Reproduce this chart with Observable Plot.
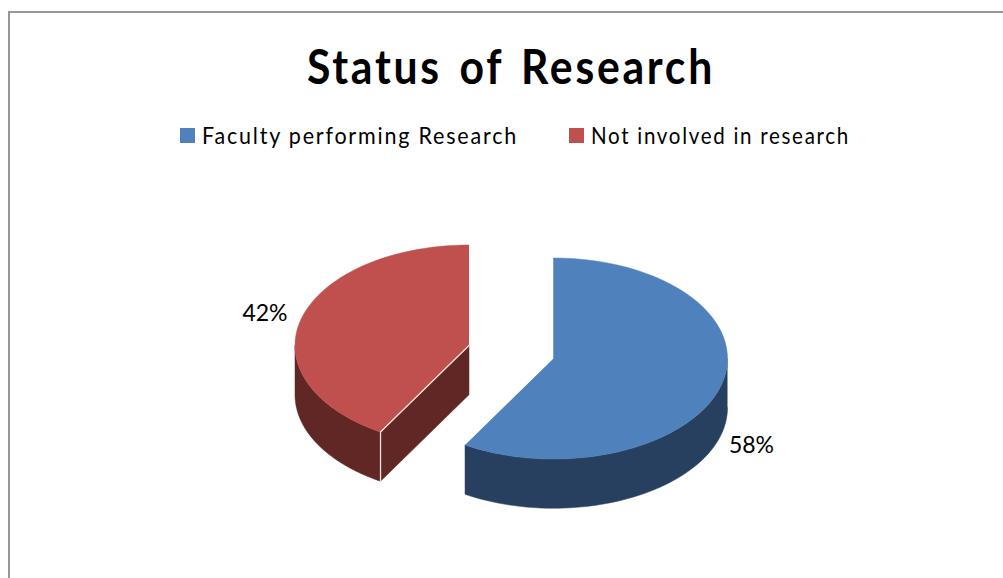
<!DOCTYPE html>
<html><head><meta charset="utf-8">
<script src="https://cdn.jsdelivr.net/npm/d3@7"></script>
<script src="https://cdn.jsdelivr.net/npm/@observablehq/plot@0.6"></script>
<style>
html,body{margin:0;padding:0;background:#fff;overflow:hidden;width:1003px;height:578px}
body{position:relative;font-family:Lato,"Open Sans",sans-serif;color:#000}
#frame{position:absolute;left:8px;top:11px;right:-5px;bottom:-5px;border:2px solid #969696;box-sizing:border-box}
#head{position:relative;height:170px}
.fit{position:absolute;white-space:nowrap;transform-origin:0 0}
#title{font-size:47px;line-height:58px;font-weight:700;letter-spacing:3px;word-spacing:5px;top:37px}
.lg{font-size:24px;line-height:32px;letter-spacing:2px;top:119px}
.sw{position:absolute;top:128px;width:15px;height:15px}
#chart{position:relative;display:block}
#chart svg{display:block;overflow:visible}
</style></head>
<body>
<div id="frame"></div>
<div id="head">
  <div id="title" class="fit"></div>
  <div id="legend"></div>
</div>
<div id="chart"></div>
<script>
const chartTitle = "Status of Research";
const categories = ["Faculty performing Research", "Not involved in research"];
const shares = [58.49, 41.51];
const shareLabels = ["58%", "42%"];
const topColors = ["#4f81bd", "#c0504d"];
const sideColors = ["#28405f", "#602725"];

// layout (pie-radius units: 1 x-unit = horizontal radius, 1 y-unit = vertical radius)
const W = 1003, H = 408, RX = 174, RY = 100.5, CX = 553, CY = 188;
const depth = 0.49;
const explode = [[0, 0], [-84.5 / RX, -13 / RY]];
const labelAt = [[198 / RX, 87 / RY], [-204 / RX, -32 / RY]];

function fit(el, left, right) {
  el.style.left = left + "px";
  el.style.transform = "scaleX(" + (right - left) / el.getBoundingClientRect().width + ")";
}
const titleEl = document.getElementById("title");
titleEl.textContent = chartTitle;
fit(titleEl, 307, 715);
const lg = document.getElementById("legend");
[[180, 202, 518], [569, 591, 850]].forEach(([sx, tx, te], i) => {
  const s = document.createElement("div"); s.className = "sw"; s.style.left = sx + "px"; s.style.background = topColors[i]; lg.appendChild(s);
  const t = document.createElement("div"); t.className = "fit lg"; t.textContent = categories[i]; lg.appendChild(t);
  fit(t, tx, te);
});

const total = d3.sum(shares);
const ends = d3.cumsum(shares).map(v => v / total * 2 * Math.PI);
const starts = [0, ...ends.slice(0, -1)];
const pt = (a, i, dz = 0) => ({x: explode[i][0] + Math.sin(a), y: explode[i][1] - Math.cos(a) + dz});
const arc = (a0, a1, i, dz = 0) => d3.range(0, 61).map(k => pt(a0 + (a1 - a0) * k / 60, i, dz));
const centre = (i, dz = 0) => ({x: explode[i][0], y: explode[i][1] + dz});

const marks = [];
shares.forEach((_, i) => {
  const a0 = starts[i], a1 = ends[i];
  const w0 = Math.max(a0, Math.PI / 2), w1 = Math.min(a1, 3 * Math.PI / 2);
  if (w1 > w0) marks.push(Plot.line([...arc(w0, w1, i), ...arc(w1, w0, i, depth)], {x: "x", y: "y", fill: sideColors[i], stroke: sideColors[i], strokeWidth: 0.5}));
  if (a0 > Math.PI && a0 < 2 * Math.PI) {
    marks.push(Plot.line([pt(a0, i), centre(i), centre(i, depth), pt(a0, i, depth)], {x: "x", y: "y", fill: sideColors[i], stroke: sideColors[i], strokeWidth: 0.5}));
  }
});
shares.forEach((_, i) => {
  marks.push(Plot.line([centre(i), ...arc(starts[i], ends[i], i)], {x: "x", y: "y", fill: topColors[i], stroke: topColors[i], strokeWidth: 0.5}));
});
marks.push(Plot.line([centre(1), pt(starts[1], 1), pt(starts[1], 1, depth)], {x: "x", y: "y", stroke: "#f2e4e3", strokeWidth: 1.3}));
marks.push(Plot.text(shareLabels, {
  x: (_, i) => explode[i][0] + labelAt[i][0],
  y: (_, i) => explode[i][1] + labelAt[i][1],
  text: d => d, fontSize: 23, fill: "#000", fontFamily: 'Lato,"Open Sans",sans-serif'
}));

document.getElementById("chart").appendChild(Plot.plot({
  width: W, height: H, margin: 0,
  style: {background: "transparent"},
  x: {domain: [-CX / RX, (W - CX) / RX], range: [0, W], axis: null},
  y: {domain: [-CY / RY, (H - CY) / RY], range: [0, H], axis: null},
  marks
}));
</script>
</body></html>
